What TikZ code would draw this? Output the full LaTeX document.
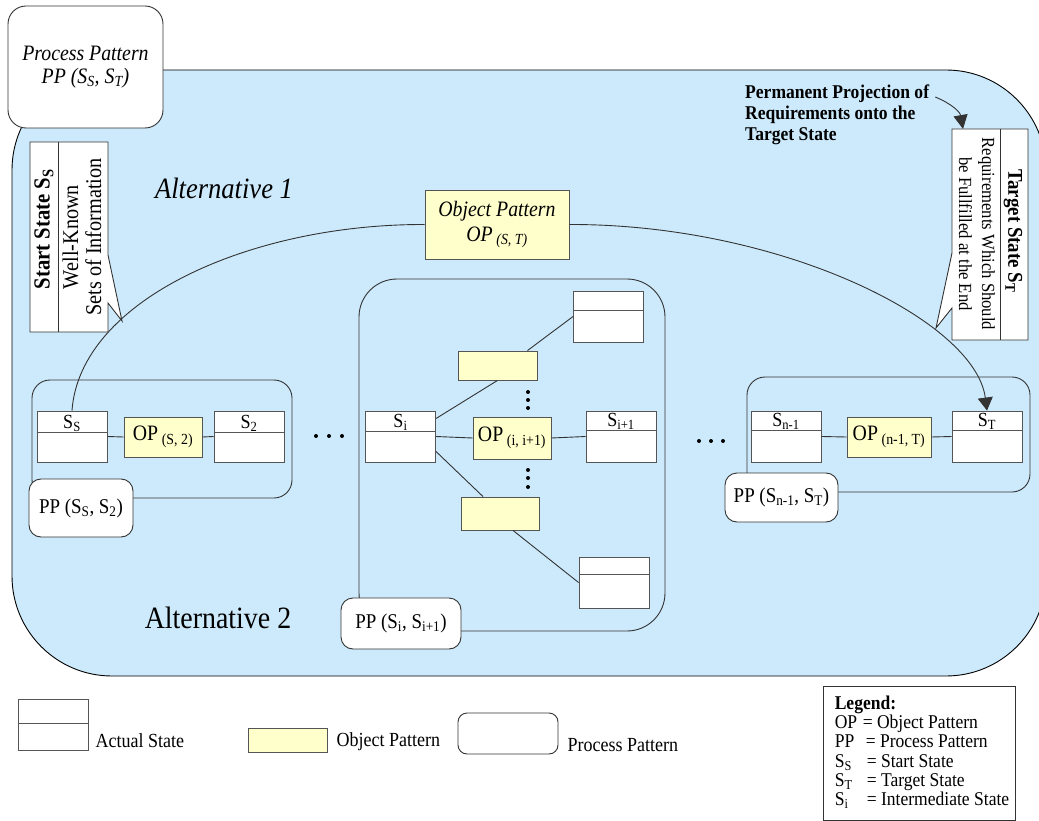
\documentclass[tikz,border=0pt]{standalone}
\usepackage{fontspec}
\setmainfont{Liberation Serif}[FakeStretch=0.9]
\usepackage{tikz}
\usetikzlibrary{arrows.meta,calc}

\definecolor{altblue}{RGB}{204,234,252}
\definecolor{opyellow}{RGB}{255,255,204}
\definecolor{boxline}{RGB}{85,85,85}

\newcommand{\fsz}[2]{\fontsize{#1}{#2}\selectfont}

\tikzset{
  statebox/.style={draw=boxline, fill=white, line width=0.9pt, minimum width=70, minimum height=51, inner sep=0},
  statelabel/.style={font=\fsz{20}{22}, inner sep=0.5},
  opbox/.style={draw=boxline, fill=opyellow, line width=0.9pt, inner sep=0, font=\fsz{22}{24}},
  ppbox/.style={draw=black!80, fill=white, rounded corners=12, line width=0.9pt, inner sep=0, font=\fsz{21}{22}},
  ppframe/.style={draw=black!80, line width=0.9pt},
  link/.style={draw=black!80, line width=0.9pt},
  dot/.style={circle, fill=black, inner sep=0, minimum size=4},
  legtext/.style={anchor=west, font=\fsz{20}{20}},
}

% actual state: name, position, label, height of the top part
\newcommand{\actstate}[4]{%
  \node[statebox] (#1) at (#2) {};
  \draw[boxline, line width=0.9pt] ([yshift=-#4]#1.north west) -- ([yshift=-#4]#1.north east);
  \node[statelabel, anchor=south] (#1-lbl) at ([yshift=-#4]#1.north) {#3};
}

\begin{document}
\begin{tikzpicture}[x=1pt, y=-1pt]
    \useasboundingbox (0,0) rectangle (1039,821);

    % Process Pattern PP(S_S, S_T)
    \draw[fill=altblue, line width=0.9pt, rounded corners=100] (12,70) rectangle (1046,676);
    \node[ppbox, rounded corners=18, minimum width=155, minimum height=122, align=center, font=\fsz{22}{23}\itshape] (pptop) at (85.5,67) {Process Pattern\\PP (S\textsubscript{S}, S\textsubscript{T})};

    \node[font=\fsz{29.5}{30}\itshape] (alt1) at (224,188) {Alternative 1};
    \node[font=\fsz{31}{30}] (alt2) at (218,618) {Alternative 2};

    % Alternative 1
    \node[opbox, minimum width=144, minimum height=69, align=center, font=\fsz{22}{25}\itshape] (opst) at (497,224.5) {Object Pattern\\OP\,\textsubscript{(S, T)}};

    % Alternative 2
    \draw[ppframe, rounded corners=18] (32,380) rectangle (292,498);
    \draw[ppframe, rounded corners=38] (359,279) rectangle (665,631);
    \draw[ppframe, rounded corners=18] (747,377) rectangle (1030,492);

    % first step
    \actstate{ss}{72,436.5}{S\textsubscript{S}}{22}
    \actstate{s2}{249,436.5}{S\textsubscript{2}}{22}
    \node[opbox, minimum width=78, minimum height=40] (op1) at (163,437) {OP\,\textsubscript{(S, 2)}};
    \draw[link] (ss.east) -- (op1.west);
    \draw[link] (op1.east) -- (s2.west);
    \node[ppbox, minimum width=104, minimum height=58] (pp1) at (81,508) {PP (S\textsubscript{S}, S\textsubscript{2})};

    \foreach \x in {316,329,342} \node[dot] (hd\x) at (\x,436) {};

    % intermediate step
    \actstate{si}{400.5,436.5}{S\textsubscript{i}}{21}
    \actstate{si1}{621,436.5}{S\textsubscript{i+1}}{20}
    \actstate{up}{608.5,316.5}{}{20}
    \actstate{lo}{614,582.5}{}{18}
    \node[opbox, minimum width=78, minimum height=42] (opi) at (512,438) {OP\,\textsubscript{(i, i+1)}};
    \node[opbox, minimum width=79, minimum height=29] (opup) at (497.5,365.5) {};
    \node[opbox, minimum width=78, minimum height=33] (oplo) at (500,513.5) {};
    \draw[link] (si.east) -- (opi.west);
    \draw[link] (opi.east) -- (si1.west);
    \draw[link] ([yshift=-8]si.north east) -- (opup.south);
    \draw[link] ([xshift=30]opup.north) -- (up.west);
    \draw[link] ([yshift=11]si.south east) -- ([xshift=-17]oplo.north);
    \draw[link] ([xshift=13]oplo.south) -- (lo.west);
    \foreach \y in {392,400,408,470,478,487} \node[dot] (vd\y) at (528,\y) {};
    \node[ppbox, minimum width=120, minimum height=51] (ppi) at (401,623.5) {PP (S\textsubscript{i}, S\textsubscript{i+1})};

    \foreach \x in {699,711,723} \node[dot] (rd\x) at (\x,441) {};

    % last step
    \actstate{sn1}{786,436.5}{S\textsubscript{n-1}}{20}
    \actstate{st}{987,436.5}{S\textsubscript{T}}{20}
    \node[opbox, minimum width=84, minimum height=40] (opn) at (889,437) {OP\,\textsubscript{(n-1, T)}};
    \draw[link] (sn1.east) -- (opn.west);
    \draw[link] (opn.east) -- (st.west);
    \node[ppbox, minimum width=113, minimum height=49] (ppn) at (781.5,497.5) {PP (S\textsubscript{n-1}, S\textsubscript{T})};

    % direct way S_S -> S_T
    \draw[link] (ss.north) .. controls (80,300) and (250,224) .. (opst.west);
    \draw[link, -{Triangle[length=13pt,width=15pt]}] (opst.east) .. controls (780,224) and (975,320) .. (st.north);

    % Start State callout
    \draw[fill=white, draw=black!80, line width=0.9pt] (30,142) -- (108,142) -- (108,255) -- (122,321) -- (108,303) -- (108,332) -- (30,332) -- cycle;
    \draw[black!80, line width=0.9pt] (58,142) -- (58,332);
    \node[rotate=90, font=\fsz{23}{22}\bfseries] (sstitle) at (44,229) {Start State S\textsubscript{S}};
    \node[rotate=90, align=center, font=\fsz{22.5}{23}] (ssinfo) at (82,237) {Well-Known\\Sets of Information};

    % Target State callout
    \draw[fill=white, draw=black!80, line width=0.9pt] (952,129) -- (1028,129) -- (1028,340) -- (952,340) -- (952,308) -- (936,328) -- (952,253) -- cycle;
    \draw[black!80, line width=0.9pt] (1000,129) -- (1000,340);
    \node[rotate=-90, font=\fsz{21}{22}\bfseries] (sttitle) at (1013,231) {Target State S\textsubscript{T}};
    \node[rotate=-90, align=center, font=\fsz{18.5}{23}] (streq) at (977,234) {Requirements Which Should\\be Fullfilled at the End};

    \node[anchor=north west, align=left, inner sep=0, font=\fsz{19.5}{21}\bfseries] (perm) at (745,85) {Permanent Projection of\\Requirements onto the\\Target State};
    \coordinate (sttop) at (963,129);
    \draw[link, -{Triangle[length=14pt,width=14pt]}] ([xshift=6,yshift=-12]perm.north east) .. controls (952,104) and (960,112) .. (sttop);

    % symbols
    \actstate{legst}{53,724.5}{}{25}
    \node[legtext] (legstlbl) at (92,741) {Actual State};
    \node[opbox, minimum width=79, minimum height=24] (legop) at (287.5,740) {};
    \node[legtext] (legoplbl) at (333,742) {Object Pattern};
    \node[ppbox, rounded corners=9, minimum width=100, minimum height=41] (legpp) at (508,733.5) {};
    \node[legtext] (legpplbl) at (564,745) {Process Pattern};

    % Legend
    \node[draw=black!80, line width=0.9pt, minimum width=192, minimum height=134, inner sep=0] (legend) at (919,753) {};
    \node[anchor=north west, align=left, inner sep=0, font=\fsz{19.5}{19.3}] (legbody) at ([xshift=12,yshift=-10]legend.north west) {\textbf{Legend:}\\
        \makebox[28pt][l]{OP}= Object Pattern\\
        \makebox[31pt][l]{PP}= Process Pattern\\
        \makebox[32pt][l]{S\textsubscript{S}}= Start State\\
        \makebox[32pt][l]{S\textsubscript{T}}= Target State\\
        \makebox[32pt][l]{S\textsubscript{i}}= Intermediate State};
\end{tikzpicture}
\end{document}
